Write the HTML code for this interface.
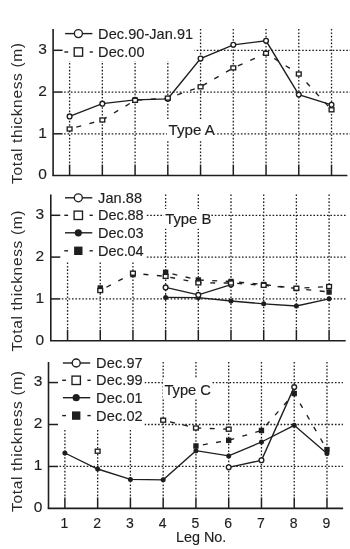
<!DOCTYPE html>
<html><head><meta charset="utf-8"><title>Total thickness by leg</title>
<style>
html,body{margin:0;padding:0;background:#fff;}
svg{display:block;filter:blur(0.3px);}
text{font-family:"Liberation Sans", sans-serif;fill:#1e1e1e;stroke:#1e1e1e;stroke-width:0.15px;}
.yt{stroke-width:0;fill:#2a2a2a;}
</style></head><body>
<svg width="350" height="549" viewBox="0 0 350 549">
<rect width="350" height="549" fill="#fff"/>

<g id="gridA"><line x1="69.60" y1="29.00" x2="69.60" y2="163.55" stroke="#1e1e1e" stroke-width="1.3" stroke-dasharray="1.6 1.8"/><line x1="102.34" y1="29.00" x2="102.34" y2="163.55" stroke="#1e1e1e" stroke-width="1.3" stroke-dasharray="1.6 1.8"/><line x1="135.08" y1="29.00" x2="135.08" y2="163.55" stroke="#1e1e1e" stroke-width="1.3" stroke-dasharray="1.6 1.8"/><line x1="167.82" y1="29.00" x2="167.82" y2="163.55" stroke="#1e1e1e" stroke-width="1.3" stroke-dasharray="1.6 1.8"/><line x1="200.56" y1="29.00" x2="200.56" y2="163.55" stroke="#1e1e1e" stroke-width="1.3" stroke-dasharray="1.6 1.8"/><line x1="233.30" y1="29.00" x2="233.30" y2="163.55" stroke="#1e1e1e" stroke-width="1.3" stroke-dasharray="1.6 1.8"/><line x1="266.04" y1="29.00" x2="266.04" y2="163.55" stroke="#1e1e1e" stroke-width="1.3" stroke-dasharray="1.6 1.8"/><line x1="298.78" y1="29.00" x2="298.78" y2="163.55" stroke="#1e1e1e" stroke-width="1.3" stroke-dasharray="1.6 1.8"/><line x1="331.52" y1="29.00" x2="331.52" y2="163.55" stroke="#1e1e1e" stroke-width="1.3" stroke-dasharray="1.6 1.8"/><line x1="64.10" y1="133.80" x2="350.00" y2="133.80" stroke="#1e1e1e" stroke-width="1.3" stroke-dasharray="1.6 1.8"/><line x1="64.10" y1="92.05" x2="350.00" y2="92.05" stroke="#1e1e1e" stroke-width="1.3" stroke-dasharray="1.6 1.8"/><line x1="64.10" y1="50.30" x2="350.00" y2="50.30" stroke="#1e1e1e" stroke-width="1.3" stroke-dasharray="1.6 1.8"/></g>
<rect x="62" y="26" width="132.5" height="35" fill="#fff"/>
<rect x="167" y="120" width="48.5" height="20" fill="#fff"/>
<g id="axesA"><line x1="53.10" y1="29.00" x2="53.10" y2="175.55" stroke="#1e1e1e" stroke-width="1.6"/><line x1="52.30" y1="175.55" x2="347.40" y2="175.55" stroke="#1e1e1e" stroke-width="1.6"/><line x1="69.60" y1="175.55" x2="69.60" y2="164.55" stroke="#1e1e1e" stroke-width="1.5"/><line x1="102.34" y1="175.55" x2="102.34" y2="164.55" stroke="#1e1e1e" stroke-width="1.5"/><line x1="135.08" y1="175.55" x2="135.08" y2="164.55" stroke="#1e1e1e" stroke-width="1.5"/><line x1="167.82" y1="175.55" x2="167.82" y2="164.55" stroke="#1e1e1e" stroke-width="1.5"/><line x1="200.56" y1="175.55" x2="200.56" y2="164.55" stroke="#1e1e1e" stroke-width="1.5"/><line x1="233.30" y1="175.55" x2="233.30" y2="164.55" stroke="#1e1e1e" stroke-width="1.5"/><line x1="266.04" y1="175.55" x2="266.04" y2="164.55" stroke="#1e1e1e" stroke-width="1.5"/><line x1="298.78" y1="175.55" x2="298.78" y2="164.55" stroke="#1e1e1e" stroke-width="1.5"/><line x1="331.52" y1="175.55" x2="331.52" y2="164.55" stroke="#1e1e1e" stroke-width="1.5"/><line x1="53.10" y1="133.80" x2="62.60" y2="133.80" stroke="#1e1e1e" stroke-width="1.5"/><line x1="53.10" y1="92.05" x2="62.60" y2="92.05" stroke="#1e1e1e" stroke-width="1.5"/><line x1="53.10" y1="50.30" x2="62.60" y2="50.30" stroke="#1e1e1e" stroke-width="1.5"/><text x="42.60" y="179.45" font-size="15.5" text-anchor="middle">0</text><text x="42.60" y="137.70" font-size="15.5" text-anchor="middle">1</text><text x="42.60" y="95.95" font-size="15.5" text-anchor="middle">2</text><text x="42.60" y="54.20" font-size="15.5" text-anchor="middle">3</text><text transform="translate(22.4,113.50) rotate(-90)" class="yt" font-size="15.5" text-anchor="middle" textLength="141" lengthAdjust="spacing">Total thickness (m)</text></g>
<text x="168.60" y="135.00" font-size="14" textLength="46.4" lengthAdjust="spacingAndGlyphs">Type A</text>
<g id="legendA"><line x1="65.10" y1="33.60" x2="92.40" y2="33.60" stroke="#1e1e1e" stroke-width="1.4"/><circle cx="78.40" cy="33.60" r="4.00" fill="#fff" stroke="#1e1e1e" stroke-width="1.35"/><text x="98.10" y="38.50" font-size="14.5" textLength="95.0" lengthAdjust="spacing">Dec.90-Jan.91</text><line x1="64.40" y1="52.00" x2="68.20" y2="52.00" stroke="#1e1e1e" stroke-width="1.4"/><line x1="89.60" y1="52.00" x2="92.90" y2="52.00" stroke="#1e1e1e" stroke-width="1.4"/><rect x="74.20" y="47.80" width="8.40" height="8.40" fill="#fff" stroke="#1e1e1e" stroke-width="1.35"/><text x="98.10" y="56.90" font-size="14.5" textLength="46.5" lengthAdjust="spacing">Dec.00</text></g>
<g id="dataA"><polyline points="69.60,116.40 102.34,103.70 135.08,99.90 167.82,98.80 200.56,58.60 233.30,44.80 266.04,40.80 298.78,94.60 331.52,104.80" fill="none" stroke="#1e1e1e" stroke-width="1.35"/><polyline points="69.60,129.00 102.34,120.00 135.08,100.30 167.82,98.10 200.56,86.80 233.30,67.90 266.04,53.30 298.78,74.00 331.52,109.80" fill="none" stroke="#1e1e1e" stroke-width="1.35" stroke-dasharray="5 8.5" stroke-dashoffset="-7"/><circle cx="69.60" cy="116.40" r="2.40" fill="#fff" stroke="#1e1e1e" stroke-width="1.35"/><circle cx="102.34" cy="103.70" r="2.40" fill="#fff" stroke="#1e1e1e" stroke-width="1.35"/><circle cx="135.08" cy="99.90" r="2.40" fill="#fff" stroke="#1e1e1e" stroke-width="1.35"/><circle cx="167.82" cy="98.80" r="2.40" fill="#fff" stroke="#1e1e1e" stroke-width="1.35"/><circle cx="200.56" cy="58.60" r="2.40" fill="#fff" stroke="#1e1e1e" stroke-width="1.35"/><circle cx="233.30" cy="44.80" r="2.40" fill="#fff" stroke="#1e1e1e" stroke-width="1.35"/><circle cx="266.04" cy="40.80" r="2.40" fill="#fff" stroke="#1e1e1e" stroke-width="1.35"/><circle cx="298.78" cy="94.60" r="2.40" fill="#fff" stroke="#1e1e1e" stroke-width="1.35"/><circle cx="331.52" cy="104.80" r="2.40" fill="#fff" stroke="#1e1e1e" stroke-width="1.35"/><rect x="67.20" y="127.00" width="4.80" height="4.00" fill="#fff" stroke="#1e1e1e" stroke-width="1.35"/><rect x="99.94" y="118.00" width="4.80" height="4.00" fill="#fff" stroke="#1e1e1e" stroke-width="1.35"/><rect x="132.68" y="98.30" width="4.80" height="4.00" fill="#fff" stroke="#1e1e1e" stroke-width="1.35"/><rect x="165.42" y="96.10" width="4.80" height="4.00" fill="#fff" stroke="#1e1e1e" stroke-width="1.35"/><rect x="198.16" y="84.80" width="4.80" height="4.00" fill="#fff" stroke="#1e1e1e" stroke-width="1.35"/><rect x="230.90" y="65.90" width="4.80" height="4.00" fill="#fff" stroke="#1e1e1e" stroke-width="1.35"/><rect x="263.64" y="51.30" width="4.80" height="4.00" fill="#fff" stroke="#1e1e1e" stroke-width="1.35"/><rect x="296.38" y="72.00" width="4.80" height="4.00" fill="#fff" stroke="#1e1e1e" stroke-width="1.35"/><rect x="329.12" y="107.80" width="4.80" height="4.00" fill="#fff" stroke="#1e1e1e" stroke-width="1.35"/></g>
<g id="gridB"><line x1="67.56" y1="194.50" x2="67.56" y2="328.70" stroke="#1e1e1e" stroke-width="1.3" stroke-dasharray="1.6 1.8"/><line x1="100.25" y1="194.50" x2="100.25" y2="328.70" stroke="#1e1e1e" stroke-width="1.3" stroke-dasharray="1.6 1.8"/><line x1="132.94" y1="194.50" x2="132.94" y2="328.70" stroke="#1e1e1e" stroke-width="1.3" stroke-dasharray="1.6 1.8"/><line x1="165.63" y1="194.50" x2="165.63" y2="328.70" stroke="#1e1e1e" stroke-width="1.3" stroke-dasharray="1.6 1.8"/><line x1="198.32" y1="194.50" x2="198.32" y2="328.70" stroke="#1e1e1e" stroke-width="1.3" stroke-dasharray="1.6 1.8"/><line x1="231.01" y1="194.50" x2="231.01" y2="328.70" stroke="#1e1e1e" stroke-width="1.3" stroke-dasharray="1.6 1.8"/><line x1="263.70" y1="194.50" x2="263.70" y2="328.70" stroke="#1e1e1e" stroke-width="1.3" stroke-dasharray="1.6 1.8"/><line x1="296.39" y1="194.50" x2="296.39" y2="328.70" stroke="#1e1e1e" stroke-width="1.3" stroke-dasharray="1.6 1.8"/><line x1="329.08" y1="194.50" x2="329.08" y2="328.70" stroke="#1e1e1e" stroke-width="1.3" stroke-dasharray="1.6 1.8"/><line x1="61.80" y1="298.90" x2="346.00" y2="298.90" stroke="#1e1e1e" stroke-width="1.3" stroke-dasharray="1.6 1.8"/><line x1="61.80" y1="257.10" x2="346.00" y2="257.10" stroke="#1e1e1e" stroke-width="1.3" stroke-dasharray="1.6 1.8"/><line x1="61.80" y1="215.30" x2="346.00" y2="215.30" stroke="#1e1e1e" stroke-width="1.3" stroke-dasharray="1.6 1.8"/></g>
<rect x="61" y="189" width="84.5" height="72.5" fill="#fff"/>
<rect x="164" y="209" width="47" height="19.5" fill="#fff"/>
<g id="axesB"><line x1="50.80" y1="194.50" x2="50.80" y2="340.70" stroke="#1e1e1e" stroke-width="1.6"/><line x1="50.00" y1="340.70" x2="345.70" y2="340.70" stroke="#1e1e1e" stroke-width="1.6"/><line x1="67.56" y1="340.70" x2="67.56" y2="329.70" stroke="#1e1e1e" stroke-width="1.5"/><line x1="100.25" y1="340.70" x2="100.25" y2="329.70" stroke="#1e1e1e" stroke-width="1.5"/><line x1="132.94" y1="340.70" x2="132.94" y2="329.70" stroke="#1e1e1e" stroke-width="1.5"/><line x1="165.63" y1="340.70" x2="165.63" y2="329.70" stroke="#1e1e1e" stroke-width="1.5"/><line x1="198.32" y1="340.70" x2="198.32" y2="329.70" stroke="#1e1e1e" stroke-width="1.5"/><line x1="231.01" y1="340.70" x2="231.01" y2="329.70" stroke="#1e1e1e" stroke-width="1.5"/><line x1="263.70" y1="340.70" x2="263.70" y2="329.70" stroke="#1e1e1e" stroke-width="1.5"/><line x1="296.39" y1="340.70" x2="296.39" y2="329.70" stroke="#1e1e1e" stroke-width="1.5"/><line x1="329.08" y1="340.70" x2="329.08" y2="329.70" stroke="#1e1e1e" stroke-width="1.5"/><line x1="50.80" y1="298.90" x2="60.30" y2="298.90" stroke="#1e1e1e" stroke-width="1.5"/><line x1="50.80" y1="257.10" x2="60.30" y2="257.10" stroke="#1e1e1e" stroke-width="1.5"/><line x1="50.80" y1="215.30" x2="60.30" y2="215.30" stroke="#1e1e1e" stroke-width="1.5"/><text x="39.80" y="344.60" font-size="15.5" text-anchor="middle">0</text><text x="39.80" y="302.80" font-size="15.5" text-anchor="middle">1</text><text x="39.80" y="261.00" font-size="15.5" text-anchor="middle">2</text><text x="39.80" y="219.20" font-size="15.5" text-anchor="middle">3</text><text transform="translate(22.4,281.00) rotate(-90)" class="yt" font-size="15.5" text-anchor="middle" textLength="141" lengthAdjust="spacing">Total thickness (m)</text></g>
<text x="165.20" y="223.80" font-size="14" textLength="46.2" lengthAdjust="spacingAndGlyphs">Type B</text>
<g id="legendB"><line x1="65.00" y1="197.80" x2="92.30" y2="197.80" stroke="#1e1e1e" stroke-width="1.4"/><circle cx="78.30" cy="197.80" r="4.00" fill="#fff" stroke="#1e1e1e" stroke-width="1.35"/><text x="98.10" y="202.70" font-size="14.5" textLength="44.0" lengthAdjust="spacing">Jan.88</text><line x1="64.30" y1="215.30" x2="68.10" y2="215.30" stroke="#1e1e1e" stroke-width="1.4"/><line x1="89.50" y1="215.30" x2="92.80" y2="215.30" stroke="#1e1e1e" stroke-width="1.4"/><rect x="74.10" y="211.10" width="8.40" height="8.40" fill="#fff" stroke="#1e1e1e" stroke-width="1.35"/><text x="98.10" y="220.20" font-size="14.5" textLength="45.6" lengthAdjust="spacing">Dec.88</text><line x1="65.00" y1="232.80" x2="92.30" y2="232.80" stroke="#1e1e1e" stroke-width="1.4"/><circle cx="78.30" cy="232.80" r="3.60" fill="#1e1e1e"/><text x="98.10" y="237.70" font-size="14.5" textLength="45.6" lengthAdjust="spacing">Dec.03</text><line x1="64.30" y1="250.80" x2="68.10" y2="250.80" stroke="#1e1e1e" stroke-width="1.4"/><line x1="89.50" y1="250.80" x2="92.80" y2="250.80" stroke="#1e1e1e" stroke-width="1.4"/><rect x="74.10" y="246.60" width="8.40" height="8.40" fill="#1e1e1e"/><text x="98.10" y="255.70" font-size="14.5" textLength="45.6" lengthAdjust="spacing">Dec.04</text></g>
<g id="dataB"><polyline points="165.63,297.40 198.32,297.70 231.01,301.00 263.70,303.80 296.39,306.00 329.08,298.80" fill="none" stroke="#1e1e1e" stroke-width="1.35"/><polyline points="165.63,287.40 198.32,294.90 231.01,284.60" fill="none" stroke="#1e1e1e" stroke-width="1.35"/><polyline points="165.63,272.30 198.32,280.00 231.01,281.50 263.70,284.50 296.39,288.50 329.08,292.00" fill="none" stroke="#1e1e1e" stroke-width="1.35" stroke-dasharray="5 8.5" stroke-dashoffset="-7"/><polyline points="100.25,290.50 132.94,273.20 165.63,276.40 198.32,282.90 231.01,283.00 263.70,285.30 296.39,288.30 329.08,286.50" fill="none" stroke="#1e1e1e" stroke-width="1.35" stroke-dasharray="5 8.5" stroke-dashoffset="-7"/><circle cx="165.63" cy="297.40" r="2.50" fill="#1e1e1e"/><circle cx="198.32" cy="297.70" r="2.50" fill="#1e1e1e"/><circle cx="231.01" cy="301.00" r="2.50" fill="#1e1e1e"/><circle cx="263.70" cy="303.80" r="2.50" fill="#1e1e1e"/><circle cx="296.39" cy="306.00" r="2.50" fill="#1e1e1e"/><circle cx="329.08" cy="298.80" r="2.50" fill="#1e1e1e"/><circle cx="165.63" cy="287.40" r="2.40" fill="#fff" stroke="#1e1e1e" stroke-width="1.35"/><circle cx="198.32" cy="294.90" r="2.40" fill="#fff" stroke="#1e1e1e" stroke-width="1.35"/><circle cx="231.01" cy="284.60" r="2.40" fill="#fff" stroke="#1e1e1e" stroke-width="1.35"/><rect x="97.55" y="285.30" width="5.40" height="5.40" fill="#1e1e1e"/><rect x="130.24" y="271.90" width="5.40" height="5.40" fill="#1e1e1e"/><rect x="162.93" y="269.60" width="5.40" height="5.40" fill="#1e1e1e"/><rect x="195.62" y="277.30" width="5.40" height="5.40" fill="#1e1e1e"/><rect x="228.31" y="278.80" width="5.40" height="5.40" fill="#1e1e1e"/><rect x="261.00" y="281.80" width="5.40" height="5.40" fill="#1e1e1e"/><rect x="293.69" y="285.80" width="5.40" height="5.40" fill="#1e1e1e"/><rect x="326.38" y="289.30" width="5.40" height="5.40" fill="#1e1e1e"/><rect x="97.85" y="288.50" width="4.80" height="4.00" fill="#fff" stroke="#1e1e1e" stroke-width="1.35"/><rect x="130.54" y="271.20" width="4.80" height="4.00" fill="#fff" stroke="#1e1e1e" stroke-width="1.35"/><rect x="163.23" y="274.40" width="4.80" height="4.00" fill="#fff" stroke="#1e1e1e" stroke-width="1.35"/><rect x="195.92" y="280.90" width="4.80" height="4.00" fill="#fff" stroke="#1e1e1e" stroke-width="1.35"/><rect x="228.61" y="281.00" width="4.80" height="4.00" fill="#fff" stroke="#1e1e1e" stroke-width="1.35"/><rect x="261.30" y="283.30" width="4.80" height="4.00" fill="#fff" stroke="#1e1e1e" stroke-width="1.35"/><rect x="293.99" y="286.30" width="4.80" height="4.00" fill="#fff" stroke="#1e1e1e" stroke-width="1.35"/><rect x="326.68" y="284.50" width="4.80" height="4.00" fill="#fff" stroke="#1e1e1e" stroke-width="1.35"/></g>
<g id="gridC"><line x1="64.90" y1="362.00" x2="64.90" y2="496.40" stroke="#1e1e1e" stroke-width="1.3" stroke-dasharray="1.6 1.8"/><line x1="97.66" y1="362.00" x2="97.66" y2="496.40" stroke="#1e1e1e" stroke-width="1.3" stroke-dasharray="1.6 1.8"/><line x1="130.42" y1="362.00" x2="130.42" y2="496.40" stroke="#1e1e1e" stroke-width="1.3" stroke-dasharray="1.6 1.8"/><line x1="163.18" y1="362.00" x2="163.18" y2="496.40" stroke="#1e1e1e" stroke-width="1.3" stroke-dasharray="1.6 1.8"/><line x1="195.94" y1="362.00" x2="195.94" y2="496.40" stroke="#1e1e1e" stroke-width="1.3" stroke-dasharray="1.6 1.8"/><line x1="228.70" y1="362.00" x2="228.70" y2="496.40" stroke="#1e1e1e" stroke-width="1.3" stroke-dasharray="1.6 1.8"/><line x1="261.46" y1="362.00" x2="261.46" y2="496.40" stroke="#1e1e1e" stroke-width="1.3" stroke-dasharray="1.6 1.8"/><line x1="294.22" y1="362.00" x2="294.22" y2="496.40" stroke="#1e1e1e" stroke-width="1.3" stroke-dasharray="1.6 1.8"/><line x1="326.98" y1="362.00" x2="326.98" y2="496.40" stroke="#1e1e1e" stroke-width="1.3" stroke-dasharray="1.6 1.8"/><line x1="59.50" y1="466.45" x2="343.00" y2="466.45" stroke="#1e1e1e" stroke-width="1.3" stroke-dasharray="1.6 1.8"/><line x1="59.50" y1="424.50" x2="343.00" y2="424.50" stroke="#1e1e1e" stroke-width="1.3" stroke-dasharray="1.6 1.8"/><line x1="59.50" y1="382.55" x2="343.00" y2="382.55" stroke="#1e1e1e" stroke-width="1.3" stroke-dasharray="1.6 1.8"/></g>
<rect x="59" y="355" width="85.5" height="74" fill="#fff"/>
<rect x="163" y="379" width="48" height="20" fill="#fff"/>
<g id="axesC"><line x1="48.50" y1="362.00" x2="48.50" y2="508.40" stroke="#1e1e1e" stroke-width="1.6"/><line x1="47.70" y1="508.40" x2="343.10" y2="508.40" stroke="#1e1e1e" stroke-width="1.6"/><line x1="64.90" y1="508.40" x2="64.90" y2="497.40" stroke="#1e1e1e" stroke-width="1.5"/><line x1="97.66" y1="508.40" x2="97.66" y2="497.40" stroke="#1e1e1e" stroke-width="1.5"/><line x1="130.42" y1="508.40" x2="130.42" y2="497.40" stroke="#1e1e1e" stroke-width="1.5"/><line x1="163.18" y1="508.40" x2="163.18" y2="497.40" stroke="#1e1e1e" stroke-width="1.5"/><line x1="195.94" y1="508.40" x2="195.94" y2="497.40" stroke="#1e1e1e" stroke-width="1.5"/><line x1="228.70" y1="508.40" x2="228.70" y2="497.40" stroke="#1e1e1e" stroke-width="1.5"/><line x1="261.46" y1="508.40" x2="261.46" y2="497.40" stroke="#1e1e1e" stroke-width="1.5"/><line x1="294.22" y1="508.40" x2="294.22" y2="497.40" stroke="#1e1e1e" stroke-width="1.5"/><line x1="326.98" y1="508.40" x2="326.98" y2="497.40" stroke="#1e1e1e" stroke-width="1.5"/><line x1="48.50" y1="466.45" x2="58.00" y2="466.45" stroke="#1e1e1e" stroke-width="1.5"/><line x1="48.50" y1="424.50" x2="58.00" y2="424.50" stroke="#1e1e1e" stroke-width="1.5"/><line x1="48.50" y1="382.55" x2="58.00" y2="382.55" stroke="#1e1e1e" stroke-width="1.5"/><text x="38.00" y="512.30" font-size="15.5" text-anchor="middle">0</text><text x="38.00" y="470.35" font-size="15.5" text-anchor="middle">1</text><text x="38.00" y="428.40" font-size="15.5" text-anchor="middle">2</text><text x="38.00" y="386.45" font-size="15.5" text-anchor="middle">3</text><text transform="translate(22.4,441.50) rotate(-90)" class="yt" font-size="15.5" text-anchor="middle" textLength="141" lengthAdjust="spacing">Total thickness (m)</text></g>
<text x="164.40" y="394.70" font-size="14" textLength="46.5" lengthAdjust="spacingAndGlyphs">Type C</text>
<g id="legendC"><line x1="62.90" y1="363.00" x2="90.20" y2="363.00" stroke="#1e1e1e" stroke-width="1.4"/><circle cx="76.20" cy="363.00" r="4.00" fill="#fff" stroke="#1e1e1e" stroke-width="1.35"/><text x="96.10" y="367.90" font-size="14.5" textLength="46.6" lengthAdjust="spacing">Dec.97</text><line x1="62.20" y1="380.30" x2="66.00" y2="380.30" stroke="#1e1e1e" stroke-width="1.4"/><line x1="87.40" y1="380.30" x2="90.70" y2="380.30" stroke="#1e1e1e" stroke-width="1.4"/><rect x="72.00" y="376.10" width="8.40" height="8.40" fill="#fff" stroke="#1e1e1e" stroke-width="1.35"/><text x="96.10" y="385.20" font-size="14.5" textLength="46.6" lengthAdjust="spacing">Dec.99</text><line x1="62.90" y1="397.70" x2="90.20" y2="397.70" stroke="#1e1e1e" stroke-width="1.4"/><circle cx="76.20" cy="397.70" r="3.60" fill="#1e1e1e"/><text x="96.10" y="402.60" font-size="14.5" textLength="46.6" lengthAdjust="spacing">Dec.01</text><line x1="62.20" y1="415.60" x2="66.00" y2="415.60" stroke="#1e1e1e" stroke-width="1.4"/><line x1="87.40" y1="415.60" x2="90.70" y2="415.60" stroke="#1e1e1e" stroke-width="1.4"/><rect x="72.00" y="411.40" width="8.40" height="8.40" fill="#1e1e1e"/><text x="96.10" y="420.50" font-size="14.5" textLength="46.6" lengthAdjust="spacing">Dec.02</text></g>
<g id="dataC"><polyline points="163.18,420.20 195.94,428.00 228.70,429.20" fill="none" stroke="#1e1e1e" stroke-width="1.35" stroke-dasharray="5 8.5" stroke-dashoffset="-7"/><polyline points="195.94,446.00 228.70,440.30 261.46,430.50 294.22,393.50 326.98,449.60" fill="none" stroke="#1e1e1e" stroke-width="1.35" stroke-dasharray="5 8.5" stroke-dashoffset="-7"/><polyline points="64.90,453.00 97.66,469.00 130.42,479.40 163.18,479.80 195.94,450.70 228.70,455.90 261.46,442.00 294.22,425.30 326.98,453.60" fill="none" stroke="#1e1e1e" stroke-width="1.35"/><polyline points="228.70,467.30 261.46,460.30 294.22,387.10" fill="none" stroke="#1e1e1e" stroke-width="1.35"/><rect x="95.26" y="449.20" width="4.80" height="4.00" fill="#fff" stroke="#1e1e1e" stroke-width="1.35"/><rect x="160.78" y="418.20" width="4.80" height="4.00" fill="#fff" stroke="#1e1e1e" stroke-width="1.35"/><rect x="193.54" y="426.00" width="4.80" height="4.00" fill="#fff" stroke="#1e1e1e" stroke-width="1.35"/><rect x="226.30" y="427.20" width="4.80" height="4.00" fill="#fff" stroke="#1e1e1e" stroke-width="1.35"/><rect x="193.24" y="443.30" width="5.40" height="5.40" fill="#1e1e1e"/><rect x="226.00" y="437.60" width="5.40" height="5.40" fill="#1e1e1e"/><rect x="258.76" y="427.80" width="5.40" height="5.40" fill="#1e1e1e"/><rect x="291.52" y="390.80" width="5.40" height="5.40" fill="#1e1e1e"/><rect x="324.28" y="446.90" width="5.40" height="5.40" fill="#1e1e1e"/><circle cx="64.90" cy="453.00" r="2.50" fill="#1e1e1e"/><circle cx="97.66" cy="469.00" r="2.50" fill="#1e1e1e"/><circle cx="130.42" cy="479.40" r="2.50" fill="#1e1e1e"/><circle cx="163.18" cy="479.80" r="2.50" fill="#1e1e1e"/><circle cx="195.94" cy="450.70" r="2.50" fill="#1e1e1e"/><circle cx="228.70" cy="455.90" r="2.50" fill="#1e1e1e"/><circle cx="261.46" cy="442.00" r="2.50" fill="#1e1e1e"/><circle cx="294.22" cy="425.30" r="2.50" fill="#1e1e1e"/><circle cx="326.98" cy="453.60" r="2.50" fill="#1e1e1e"/><circle cx="228.70" cy="467.30" r="2.40" fill="#fff" stroke="#1e1e1e" stroke-width="1.35"/><circle cx="261.46" cy="460.30" r="2.40" fill="#fff" stroke="#1e1e1e" stroke-width="1.35"/><circle cx="294.22" cy="387.10" r="2.40" fill="#fff" stroke="#1e1e1e" stroke-width="1.35"/></g>
<text x="64.30" y="527.8" font-size="14" text-anchor="middle">1</text><text x="97.06" y="527.8" font-size="14" text-anchor="middle">2</text><text x="129.82" y="527.8" font-size="14" text-anchor="middle">3</text><text x="162.58" y="527.8" font-size="14" text-anchor="middle">4</text><text x="195.34" y="527.8" font-size="14" text-anchor="middle">5</text><text x="228.10" y="527.8" font-size="14" text-anchor="middle">6</text><text x="260.86" y="527.8" font-size="14" text-anchor="middle">7</text><text x="293.62" y="527.8" font-size="14" text-anchor="middle">8</text><text x="326.38" y="527.8" font-size="14" text-anchor="middle">9</text>
<text x="175.9" y="542.4" font-size="14" textLength="50.4" lengthAdjust="spacingAndGlyphs">Leg No.</text>
</svg>
</body></html>
